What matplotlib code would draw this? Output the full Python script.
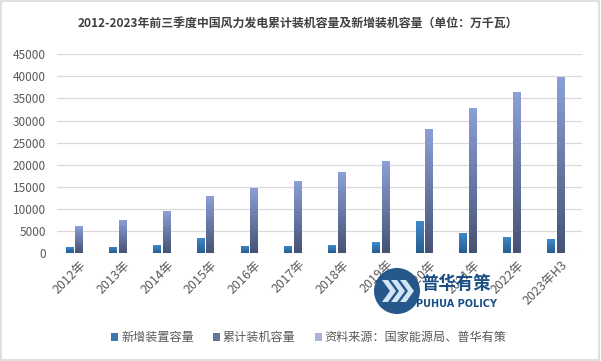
import numpy as np
import matplotlib.pyplot as plt
from matplotlib.patches import Patch, Rectangle, Circle, Polygon
from matplotlib.colors import LinearSegmentedColormap

plt.rcParams['font.family'] = ['Noto Sans CJK SC', 'DejaVu Sans']

# data (万千瓦)
years = ['2012年', '2013年', '2014年', '2015年', '2016年', '2017年',
         '2018年', '2019年', '2020年', '2021年', '2022年', '2023年H3']
new_cap = [1360, 1360, 1810, 3400, 1590, 1590, 1810, 2490, 7250, 4530, 3630, 3170]
total_cap = [6120, 7480, 9520, 12920, 14800, 16310, 18350, 20850, 28100, 32850, 36480, 39950]
series_names = ['新增装置容量', '累计装机容量', '资料来源：国家能源局、普华有策']

text_gray = '#595959'
grid_gray = '#d9d9d9'

fig = plt.figure(figsize=(6.01, 3.61), dpi=100)
ax = fig.add_axes([0.0948, 0.2992, 0.874, 0.5504])

new_cmap = LinearSegmentedColormap.from_list('new', ['#285c8c', '#3f8bcf'])
tot_cmap = LinearSegmentedColormap.from_list('tot', ['#465274', '#8ca1d8'])
grad = np.linspace(0, 1, 256).reshape(-1, 1)


def gradient_bars(x, heights, width, cmap):
    bars = ax.bar(x, heights, width=width, color='none', linewidth=0, zorder=3)
    for b in bars:
        x0, y0 = b.get_x(), b.get_y()
        im = ax.imshow(grad, cmap=cmap, origin='lower', aspect='auto',
                       extent=[x0, x0 + b.get_width(), y0, y0 + b.get_height()],
                       zorder=3)
        im.set_clip_path(b)
    return bars


x = np.arange(len(years))
gradient_bars(x - 0.215, new_cap, 0.18, new_cmap)
gradient_bars(x, total_cap, 0.17, tot_cmap)

ax.set_xlim(-0.5, len(years) - 0.5)
ax.set_ylim(0, 45000)
ax.set_yticks(np.arange(0, 45001, 5000))
ax.yaxis.grid(True, color=grid_gray, linewidth=0.9)
ax.set_axisbelow(True)
for s in ax.spines.values():
    s.set_visible(False)
ax.tick_params(axis='both', length=0, colors=text_gray)
ax.tick_params(axis='y', pad=8, labelsize=8.5)
ax.set_xticks(x + 0.12)
ax.set_xticklabels(years, rotation=45, ha='right', va='center',
                   rotation_mode='anchor', fontsize=9)
ax.tick_params(axis='x', pad=7)

fig.text(0.495, 0.936, '2012-2023年前三季度中国风力发电累计装机容量及新增装机容量（单位：万千瓦）',
         ha='center', va='center', fontsize=8.6, fontweight='bold', color='#404040')

handles = [Patch(facecolor='#3a78ae'), Patch(facecolor='#66739a'), Patch(facecolor='#a9b5d8')]
fig.legend(handles, series_names, loc='center', bbox_to_anchor=(0.514, 0.064),
           ncol=3, frameon=False, fontsize=8.7, labelcolor=text_gray,
           handlelength=0.55, handleheight=0.55, handletextpad=0.25,
           columnspacing=1.6, borderaxespad=0)

# watermark logo (pixel coordinates, origin bottom-left)
lx, ly, r = 397, 361 - 291, 23
fig.add_artist(Circle((lx, ly), r, transform=None, facecolor='#1a4f86',
                      edgecolor='none', alpha=0.95, zorder=10))
for dx in (-15, -6, 3):
    pts = [(lx + dx, ly + 11), (lx + dx + 6, ly + 11), (lx + dx + 14, ly),
           (lx + dx + 6, ly - 11), (lx + dx, ly - 11), (lx + dx + 8, ly)]
    fig.add_artist(Polygon(pts, closed=True, transform=None, facecolor='#d4e6f6',
                           edgecolor='none', zorder=11))
fig.text(456 / 601, 1 - 284 / 361, '普华有策', ha='center', va='center',
         fontsize=12.5, fontweight='bold', color='#1a4f86', zorder=12)
fig.text(457 / 601, 1 - 304 / 361, 'PUHUA POLICY', ha='center', va='center',
         fontsize=7, fontweight='bold', color='#1a4f86', zorder=12,
         family=['DejaVu Sans'])

fig.add_artist(Rectangle((0.002, 0.003), 0.995, 0.993, transform=fig.transFigure,
                         fill=False, edgecolor='#d9d9d9', linewidth=1.2))

fig.savefig('out.png', dpi=100)
